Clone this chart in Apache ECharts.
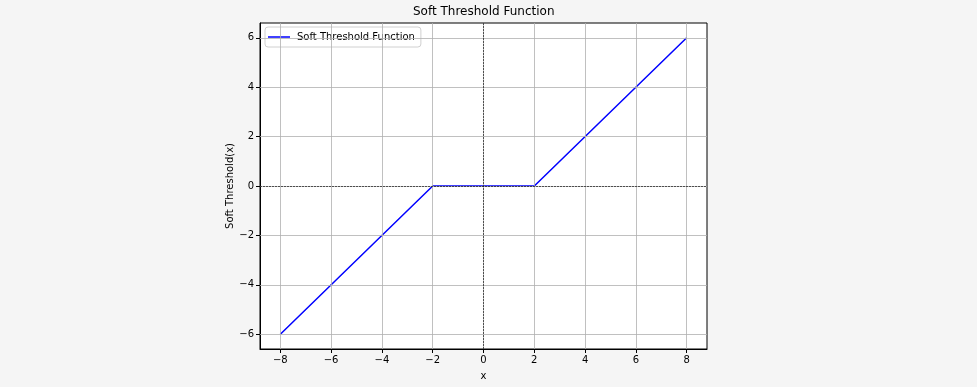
<!DOCTYPE html>
<html><head><meta charset="utf-8">
<script src="https://cdn.jsdelivr.net/npm/echarts@6/dist/echarts.min.js"></script>
<style>html,body{margin:0;padding:0;background:#f5f5f5;}#c{width:977px;height:387px;}</style>
</head><body><div id="c"></div>
<script>
const xValues = [-8, -2, 2, 8];
const yValues = [-6, 0, 0, 6];
const xTicks = [-8, -6, -4, -2, 0, 2, 4, 6, 8];
const yTicks = [-6, -4, -2, 0, 2, 4, 6];
const xRange = [-8.8, 8.8];
const yRange = [-6.6, 6.6];

const fmt = v => (v < 0 ? '\u2212' + Math.abs(v) : String(v));
const font = 'DejaVu Sans';
const chart = echarts.init(document.getElementById('c'), null, {renderer: 'canvas'});
const gridMarks = [];
xTicks.forEach(v => gridMarks.push({xAxis: v}));
yTicks.forEach(v => gridMarks.push({yAxis: v}));

chart.setOption({
  animation: false,
  backgroundColor: '#f5f5f5',
  title: {text: 'Soft Threshold Function', left: 413, top: 6, padding: 0,
    textStyle: {fontFamily: font, fontSize: 12, fontWeight: 'normal', color: '#000'}},
  legend: {data: ['Soft Threshold Function'], left: 265, top: 27, orient: 'vertical',
    icon: 'rect', itemWidth: 22, itemHeight: 1.5, itemGap: 0,
    padding: [5, 6, 5, 3], borderColor: '#d0d0d0', borderWidth: 1, borderRadius: 3,
    backgroundColor: 'rgba(255,255,255,0.8)',
    textStyle: {fontFamily: font, fontSize: 10, color: '#000', padding: [0, 0, 0, 2]}},
  grid: {left: 260, right: 270, top: 23, bottom: 38, show: true, backgroundColor: '#fff',
    borderColor: '#000', borderWidth: 1},
  xAxis: {type: 'value', min: xRange[0], max: xRange[1], name: 'x', nameLocation: 'middle', nameGap: 22,
    nameTextStyle: {fontFamily: font, fontSize: 10, color: '#000'},
    axisLine: {show: true, onZero: false, lineStyle: {color: '#000', width: 1}},
    axisTick: {show: true, length: 4, customValues: xTicks, lineStyle: {color: '#000'}},
    axisLabel: {customValues: xTicks, formatter: fmt, fontFamily: font, fontSize: 10, color: '#000', margin: 6},
    splitLine: {show: false}},
  yAxis: {type: 'value', min: yRange[0], max: yRange[1], name: 'Soft Threshold(x)', nameLocation: 'middle', nameGap: 25,
    nameTextStyle: {fontFamily: font, fontSize: 10, color: '#000'},
    axisLine: {show: true, onZero: false, lineStyle: {color: '#000', width: 1}},
    axisTick: {show: true, length: 4, customValues: yTicks, lineStyle: {color: '#000'}},
    axisLabel: {customValues: yTicks, formatter: fmt, fontFamily: font, fontSize: 10, color: '#000', margin: 6},
    splitLine: {show: false}},
  series: [
    {type: 'line', name: 'grid', data: [], silent: true, z: 1,
      markLine: {silent: true, symbol: 'none', label: {show: false}, animation: false,
        lineStyle: {color: '#b0b0b0', width: 0.8, type: 'solid'}, data: gridMarks}},
    {type: 'line', name: 'zero', data: [], silent: true, z: 2,
      markLine: {silent: true, symbol: 'none', label: {show: false}, animation: false,
        lineStyle: {color: '#000', width: 0.6, type: [2, 1]}, data: [{xAxis: 0}, {yAxis: 0}]}},
    {type: 'line', name: 'Soft Threshold Function', z: 3,
      data: xValues.map((x, i) => [x, yValues[i]]),
      showSymbol: false, symbol: 'none', lineStyle: {color: '#0000ff', width: 1.5}, itemStyle: {color: '#0000ff'}}
  ]
});
</script></body></html>
